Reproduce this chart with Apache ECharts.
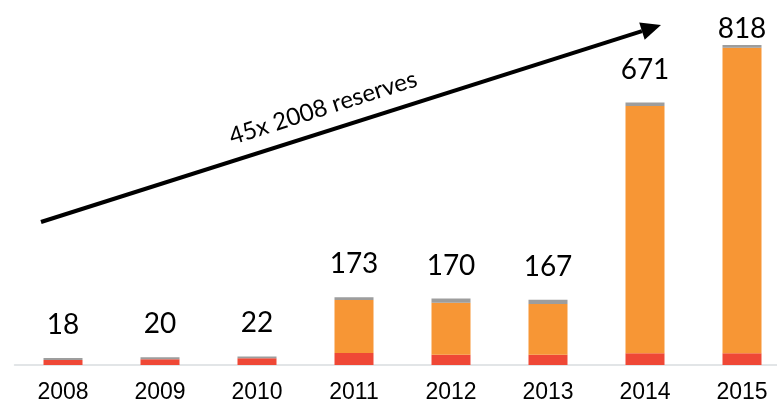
<!DOCTYPE html>
<html>
<head>
<meta charset="utf-8">
<script src="https://cdn.jsdelivr.net/npm/echarts@6/dist/echarts.min.js"></script>
<style>
  html, body { margin: 0; padding: 0; background: #fff; }
  #chart { width: 777px; height: 404px; }
</style>
</head>
<body>
<div id="chart"></div>
<script>
// data
const years = ['2008', '2009', '2010', '2011', '2012', '2013', '2014', '2015']
const redPart = [13, 15, 17, 31, 26, 26, 30, 30]
const orangePart = [0, 0, 0, 135, 133, 130, 632, 781]
const grayPart = [5, 5, 5, 7, 11, 11, 9, 7]
const totals = [18, 20, 22, 173, 170, 167, 671, 818]
const arrowText = '45x 2008 reserves'

const chart = echarts.init(document.getElementById('chart'))

// arrow geometry (annotation)
const start = [41, 222]
const tip = [661, 25]
const dx = tip[0] - start[0], dy = tip[1] - start[1]
const len = Math.sqrt(dx * dx + dy * dy)
const ux = dx / len, uy = dy / len
const headLen = 20, headHalf = 9
const base = [tip[0] - ux * headLen, tip[1] - uy * headLen]
const angle = Math.atan2(-dy, dx)

const barCommon = {
  type: 'bar',
  stack: 'total',
  barWidth: 39,
  animation: false
}

const option = {
  animation: false,
  grid: {
    left: 14.5,
    width: 776,
    top: 13,
    height: 352,
    containLabel: false,
    outerBoundsMode: 'none'
  },
  xAxis: {
    type: 'category',
    data: years,
    axisTick: { show: false },
    axisLine: { lineStyle: { color: '#d9dde0', width: 1.5 } },
    axisLabel: {
      fontFamily: 'Liberation Sans',
      fontSize: 23,
      color: '#000',
      margin: 16
    }
  },
  yAxis: {
    type: 'value',
    min: 0,
    max: 900,
    show: false,
    splitLine: { show: false }
  },
  series: [
    Object.assign({}, barCommon, {
      name: 'red',
      data: redPart,
      itemStyle: { color: '#ef4836' }
    }),
    Object.assign({}, barCommon, {
      name: 'orange',
      data: orangePart,
      itemStyle: { color: '#f79635' }
    }),
    Object.assign({}, barCommon, {
      name: 'gray',
      data: grayPart.map((v, i) => ({
        value: v,
        label: { distance: i === grayPart.length - 1 ? 2 : 19 }
      })),
      itemStyle: { color: '#9d9d9d' },
      label: {
        show: true,
        position: 'top',
        fontFamily: 'Lato',
        fontSize: 28,
        color: '#000',
        formatter: (p) => String(totals[p.dataIndex])
      }
    })
  ],
  graphic: [
    {
      type: 'line',
      shape: { x1: start[0], y1: start[1], x2: base[0], y2: base[1] },
      style: { stroke: '#000', lineWidth: 4 }
    },
    {
      type: 'polygon',
      shape: {
        points: [
          tip,
          [base[0] - uy * headHalf, base[1] + ux * headHalf],
          [base[0] + uy * headHalf, base[1] - ux * headHalf]
        ]
      },
      style: { fill: '#000' }
    },
    {
      type: 'text',
      x: 323,
      y: 108,
      rotation: angle,
      style: {
        text: arrowText,
        x: 0,
        y: 0,
        align: 'center',
        verticalAlign: 'middle',
        fontFamily: 'Lato',
        fontSize: 24,
        fill: '#000'
      }
    }
  ]
}

chart.setOption(option)
window.addEventListener('resize', () => chart.resize())
</script>
</body>
</html>
